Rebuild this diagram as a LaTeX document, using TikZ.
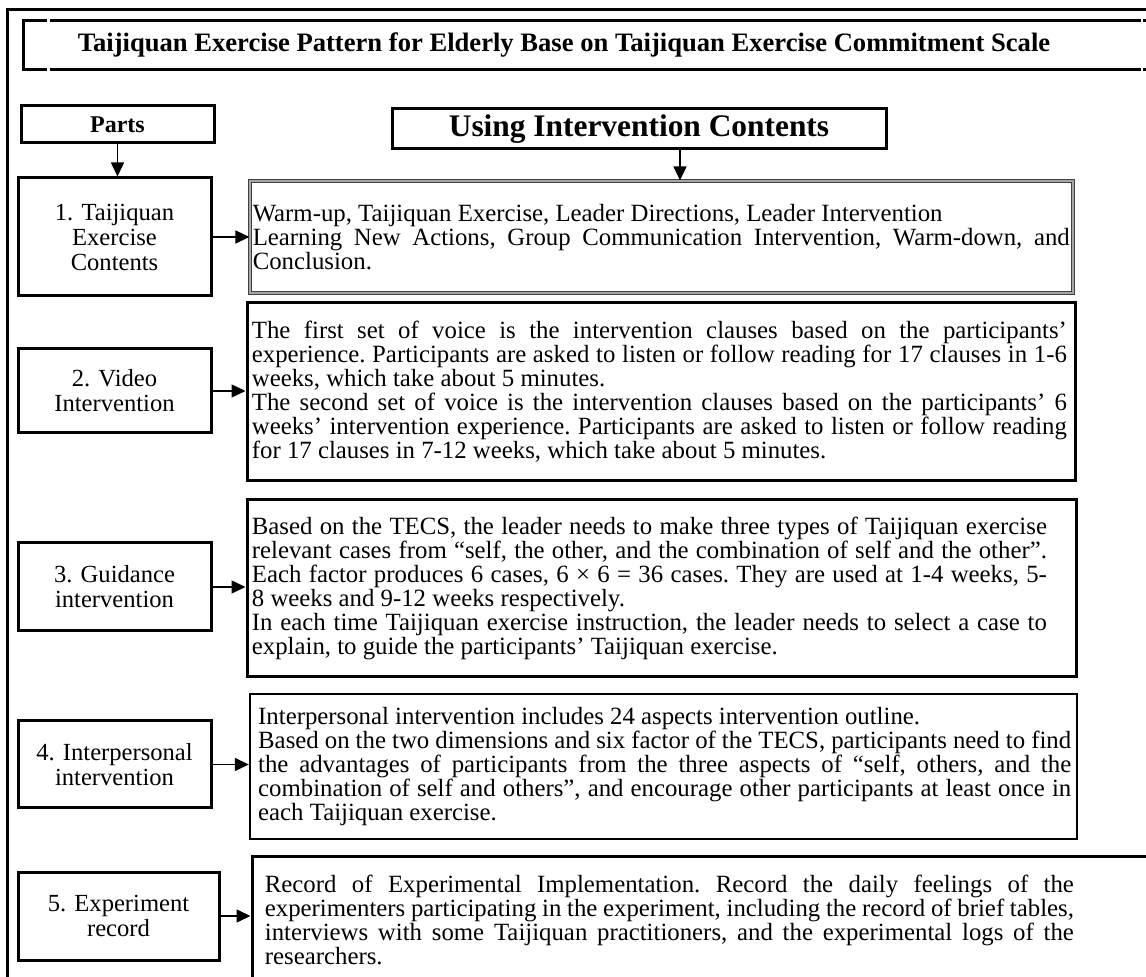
\documentclass[tikz,border=0pt]{standalone}
\usepackage{fontspec}
\setmainfont{Liberation Serif}
\usetikzlibrary{arrows.meta}
\newlength{\jw}
\newcommand{\jl}[1]{\makebox[\jw][s]{#1}}

\begin{document}
\begin{tikzpicture}[>={Triangle[length=7pt,width=6.5pt]},x=0.5pt,y=-0.5pt,
	box/.style={draw,line width=1.5pt,inner sep=0pt},
	part/.style={box,minimum width=96.5pt,align=center,font=\fontsize{12.3}{12.5}\selectfont},
	cbox/.style={box,minimum width=414pt},
	ctext/.style={anchor=west,align=left,inner sep=0pt,text width=#1,font=\fontsize{12.4}{12}\selectfont,
		execute at begin node={\setlength{\jw}{#1}\spaceskip=0pt\xspaceskip=0pt\frenchspacing}},
	link/.style={->,line width=0.75pt}]
		\useasboundingbox (0,0) rectangle (1146,977);
		\clip (0,0) rectangle (1146,977);
		\draw[line width=1.5pt] (7,10) rectangle (1170,1000);
		\node[box,minimum width=568.5pt,minimum height=24.5pt,font=\fontsize{13.3}{14}\selectfont\bfseries] (title) at (591.5,45.5) {\hspace*{-27.5pt}Taijiquan Exercise Pattern for Elderly Base on Taijiquan Exercise Commitment Scale};
		\fill[white] (47,15) rectangle (50,76);
		\fill[white] (1141,15) rectangle (1143,76);
		\node[part,minimum height=18.5pt,font=\fontsize{12}{12}\selectfont\bfseries] (parts) at (117.5,124.5) {Parts};
		\node[box,minimum width=247pt,minimum height=20pt,font=\fontsize{15.7}{16}\selectfont\bfseries] (using) at (639,129) {Using Intervention Contents};
		\node[part,minimum height=59pt] (p1) at (114.5,237) {1. Taijiquan\\Exercise\\Contents};
		\node[part,minimum height=42pt] (p2) at (114.5,391) {2. Video\\Intervention};
		\node[part,minimum height=44pt] (p3) at (114.5,587) {3. Guidance\\intervention};
		\node[part,minimum height=43.5pt] (p4) at (114.5,764.5) {4. Interpersonal\\intervention};
		\node[part,minimum width=100.5pt,minimum height=44pt] (p5) at (118.5,916) {5. Experiment\\record};
		\node[cbox,minimum width=411.5pt,minimum height=56pt,draw=black!75,double=black!35,double distance=0.7pt,line width=0.6pt] (c1) at (661.5,237) {};
		\node[cbox,minimum height=89pt] (c2) at (661,392) {};
		\node[cbox,minimum width=414.5pt,minimum height=88.5pt] (c3) at (661.5,588.5) {};
		\node[cbox,minimum width=413.5pt,minimum height=72.5pt,line width=1.2pt] (c4) at (663.5,766.5) {};
		\node[cbox,minimum width=460pt,minimum height=60.5pt] (c5) at (712,917.5) {};
		\node[ctext=408.5pt] (t1) at ([xshift=1.5pt]c1.west) {Warm-up, Taijiquan Exercise, Leader Directions, Leader Intervention\\
			\jl{Learning New Actions, Group Communication Intervention, Warm-down, and}\\
			Conclusion.};
		\node[ctext=407.5pt] (t2) at ([xshift=3pt]c2.west) {\jl{The first set of voice is the intervention clauses based on the participants’}\\
			\jl{experience. Participants are asked to listen or follow reading for 17 clauses in 1-6}\\
			weeks, which take about 5 minutes.\\
			\jl{The second set of voice is the intervention clauses based on the participants’ 6}\\
			\jl{weeks’ intervention experience. Participants are asked to listen or follow reading}\\
			for 17 clauses in 7-12 weeks, which take about 5 minutes.};
		\node[ctext=397.5pt] (t3) at ([xshift=3pt]c3.west) {\jl{Based on the TECS, the leader needs to make three types of Taijiquan exercise}\\
			\jl{relevant cases from “self, the other, and the combination of self and the other”.}\\
			\jl{Each factor produces 6 cases, 6 × 6 = 36 cases. They are used at 1-4 weeks, 5-}\\
			8 weeks and 9-12 weeks respectively.\\
			\jl{In each time Taijiquan exercise instruction, the leader needs to select a case to}\\
			explain, to guide the participants’ Taijiquan exercise.};
		\node[ctext=406.5pt] (t4) at ([xshift=4.5pt]c4.west) {Interpersonal intervention includes 24 aspects intervention outline.\\
			\jl{Based on the two dimensions and six factor of the TECS, participants need to find}\\
			\jl{the advantages of participants from the three aspects of “self, others, and the}\\
			\jl{combination of self and others”, and encourage other participants at least once in}\\
			each Taijiquan exercise.};
		\node[ctext=404.5pt] (t5) at ([xshift=7pt,yshift=-1pt]c5.west) {\jl{Record of Experimental Implementation. Record the daily feelings of the}\\
			\jl{experimenters participating in the experiment, including the record of brief tables,}\\
			\jl{interviews with some Taijiquan practitioners, and the experimental logs of the}\\
			researchers.};
		\coordinate (drop) at (680,149);
		\draw[link] (parts.south) -- (parts.south |- p1.north);
		\draw[link] (drop) -- (drop |- c1.north);
		\foreach \i in {1,...,5}
			\draw[link] (p\i.east) -- (p\i.east -| c\i.west);
		\end{tikzpicture}
\end{document}
